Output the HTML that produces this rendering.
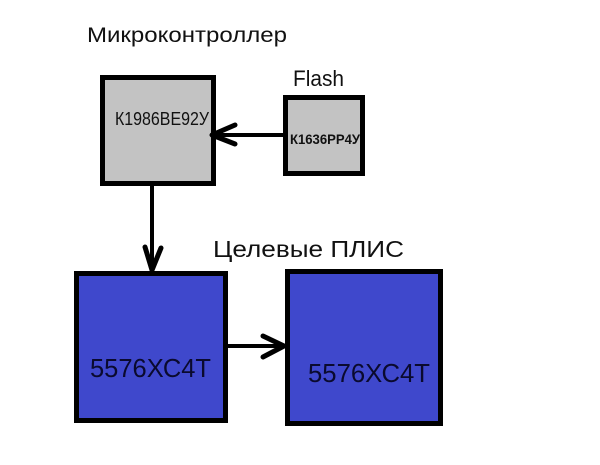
<!DOCTYPE html>
<html>
<head>
<meta charset="utf-8">
<style>
html,body{margin:0;padding:0;background:#fff;}
svg{display:block;}
text{font-family:"Liberation Sans","Noto Sans CJK SC",sans-serif;}
</style>
</head>
<body>
<svg width="600" height="465" viewBox="0 0 600 465" xmlns="http://www.w3.org/2000/svg">
  <rect x="0" y="0" width="600" height="465" fill="#ffffff"/>

  <!-- Headings -->
  <text x="87" y="42" font-size="21" fill="#111" textLength="200" lengthAdjust="spacingAndGlyphs">Микроконтроллер</text>
  <text x="293" y="86" font-size="22" fill="#111" textLength="51" lengthAdjust="spacingAndGlyphs">Flash</text>
  <text x="213" y="257" font-size="23" fill="#111" textLength="191" lengthAdjust="spacingAndGlyphs">Целевые ПЛИС</text>

  <!-- MCU box -->
  <rect x="102.5" y="77.5" width="111" height="106" fill="#c3c3c3" stroke="#000" stroke-width="5"/>
  <text x="115" y="125" font-size="18" fill="#111" textLength="94" lengthAdjust="spacingAndGlyphs">К1986ВЕ92У</text>

  <!-- Flash box -->
  <rect x="285.5" y="97.5" width="77" height="76" fill="#c3c3c3" stroke="#000" stroke-width="5"/>
  <text x="290" y="144" font-size="14" fill="#111" font-weight="bold" textLength="70" lengthAdjust="spacingAndGlyphs">К1636РР4У</text>

  <!-- Bottom-left FPGA -->
  <rect x="76.5" y="273.5" width="149" height="147" fill="#3f48cc" stroke="#000" stroke-width="5"/>
  <text x="90" y="377" font-size="26" fill="#0a0a2e" textLength="121" lengthAdjust="spacingAndGlyphs">5576ХС4Т</text>

  <!-- Bottom-right FPGA -->
  <rect x="287.5" y="271.5" width="153" height="152" fill="#3f48cc" stroke="#000" stroke-width="5"/>
  <text x="308" y="382" font-size="26" fill="#0a0a2e" textLength="122" lengthAdjust="spacingAndGlyphs">5576ХС4Т</text>

  <!-- Arrow Flash -> MCU -->
  <line x1="284" y1="135" x2="214" y2="135" stroke="#000" stroke-width="4"/>
  <polyline points="235,125 212,135 235,144" fill="none" stroke="#000" stroke-width="5" stroke-linecap="round" stroke-linejoin="round"/>

  <!-- Arrow MCU -> FPGA -->
  <line x1="152" y1="185" x2="152" y2="268" stroke="#000" stroke-width="4"/>
  <polyline points="145,247 152,270 161,248" fill="none" stroke="#000" stroke-width="5" stroke-linecap="round" stroke-linejoin="round"/>

  <!-- Arrow FPGA -> FPGA -->
  <line x1="227" y1="346" x2="282" y2="346" stroke="#000" stroke-width="4"/>
  <polyline points="263,336 284,346 263,357" fill="none" stroke="#000" stroke-width="5" stroke-linecap="round" stroke-linejoin="round"/>
</svg>
</body>
</html>
